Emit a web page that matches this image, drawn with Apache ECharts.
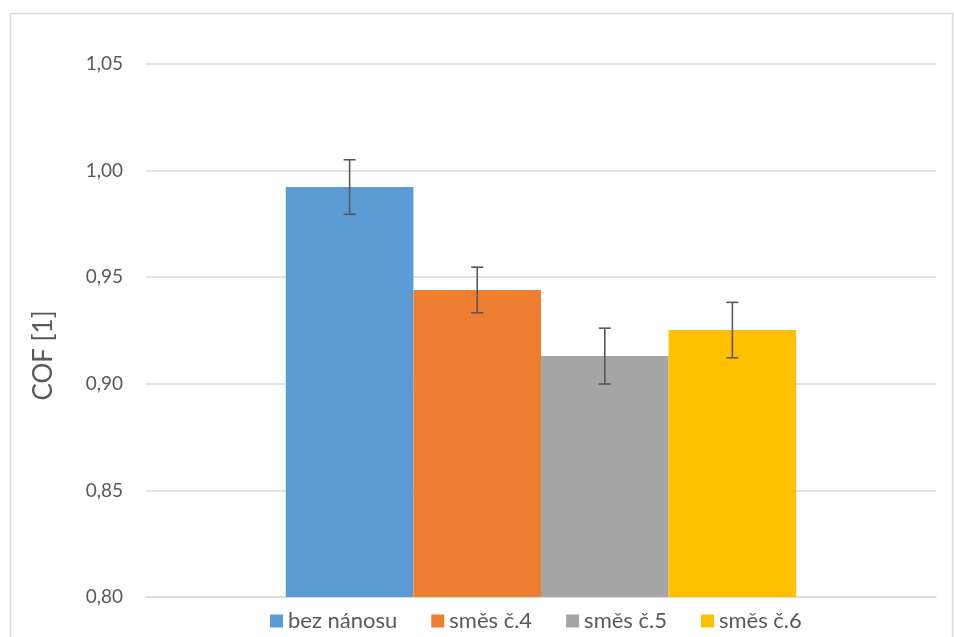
<!DOCTYPE html>
<html>
<head>
<meta charset="utf-8">
<script src="https://cdn.jsdelivr.net/npm/echarts@6/dist/echarts.min.js"></script>
<style>
  html, body { margin: 0; padding: 0; background: #fff; }
  #chart { width: 954px; height: 637px; }
</style>
</head>
<body>
<div id="chart"></div>
<script>
// Friction coefficient per coating variant, with standard deviation
const categories = ['COF'];
const seriesNames = ['bez nánosu', 'směs č.4', 'směs č.5', 'směs č.6'];
const cofValues = [0.9923, 0.9440, 0.9130, 0.9252];
const cofErrors = [0.0128, 0.0107, 0.0131, 0.0130];
const colors = ['#5b9bd5', '#ed7d31', '#a5a5a5', '#ffc000'];
const yTicks = { min: 0.80, max: 1.05, interval: 0.05 };

const GAP = 0.354; // share of the category band left empty
const font = 'Lato, "Open Sans", sans-serif';
const textColor = '#595959';

const chart = echarts.init(document.getElementById('chart'), null, { renderer: 'canvas' });

const barSeries = seriesNames.map((name, i) => ({
  name: name,
  type: 'bar',
  data: [cofValues[i]],
  itemStyle: { color: colors[i] },
  barGap: '0%',
  barCategoryGap: (GAP * 100) + '%',
  emphasis: { disabled: true }
}));

const errorSeries = {
  type: 'custom',
  name: 'error',
  z: 10,
  silent: true,
  data: seriesNames.map((n, i) => [0, cofValues[i], cofErrors[i], i]),
  encode: { x: 0, y: 1 },
  renderItem: function (params, api) {
    const idx = api.value(3);
    const val = api.value(1);
    const err = api.value(2);
    const band = api.size([1, 0])[0];
    const bw = band * (1 - GAP) / seriesNames.length;
    const center = api.coord([0, val]);
    const x = center[0] + (idx - (seriesNames.length - 1) / 2) * bw;
    const top = api.coord([0, val + err])[1];
    const bot = api.coord([0, val - err])[1];
    const cap = 6;
    const style = { stroke: '#595959', lineWidth: 1.6, fill: null };
    return {
      type: 'group',
      children: [
        { type: 'line', shape: { x1: x, y1: top, x2: x, y2: bot }, style: style },
        { type: 'line', shape: { x1: x - cap, y1: top, x2: x + cap, y2: top }, style: style },
        { type: 'line', shape: { x1: x - cap, y1: bot, x2: x + cap, y2: bot }, style: style }
      ]
    };
  }
};

chart.setOption({
  animation: false,
  backgroundColor: '#fff',
  textStyle: { fontFamily: font },
  graphic: [{
    type: 'rect',
    shape: { x: 10.5, y: 13.5, width: 942, height: 640 },
    style: { fill: null, stroke: '#d9d9d9', lineWidth: 1.5 },
    silent: true
  }],
  grid: { left: 146, right: 18, top: 64, bottom: 40, containLabel: false },
  legend: {
    data: seriesNames,
    left: 265,
    bottom: 0,
    icon: 'rect',
    itemWidth: 13,
    itemHeight: 13,
    itemGap: 34,
    textStyle: { color: textColor, fontSize: 22, fontFamily: font }
  },
  xAxis: {
    type: 'category',
    data: categories,
    axisLine: { show: true, lineStyle: { color: '#d9d9d9', width: 1.5 } },
    axisTick: { show: false },
    axisLabel: { show: false }
  },
  yAxis: {
    type: 'value',
    min: yTicks.min,
    max: yTicks.max,
    interval: yTicks.interval,
    name: 'COF [1]',
    nameLocation: 'middle',
    nameGap: 89,
    nameTextStyle: { color: textColor, fontSize: 26, fontFamily: font, padding: [0, 50, 0, 0] },
    axisLine: { show: false },
    axisTick: { show: false },
    axisLabel: {
      color: textColor,
      fontSize: 19,
      fontFamily: font,
      margin: 23,
      formatter: v => v.toFixed(2).replace('.', ',')
    },
    splitLine: { lineStyle: { color: '#d9d9d9', width: 1.5 } }
  },
  series: barSeries.concat([errorSeries])
});
</script>
</body>
</html>
